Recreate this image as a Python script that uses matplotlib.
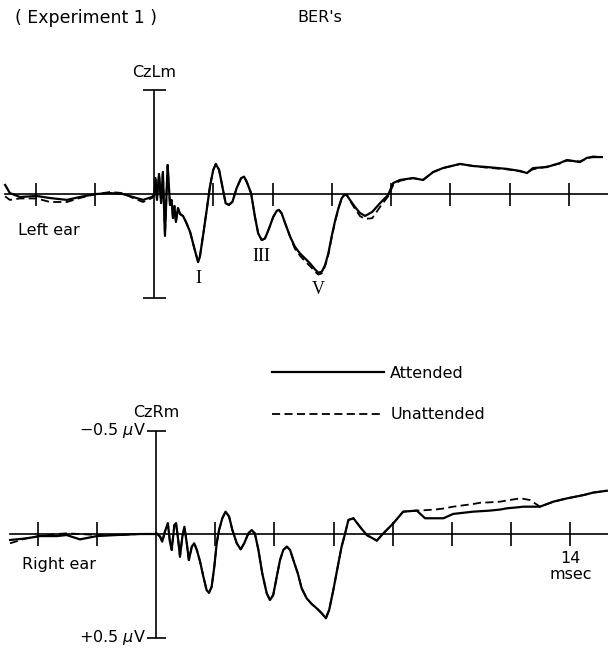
import numpy as np
import matplotlib.pyplot as plt
from matplotlib.lines import Line2D

# time in msec, amplitude in microvolts (vertex negative plotted upward)
left_t = [-5.04, -4.88, -4.54, -3.98, -3.52, -2.95, -2.52, -2.00, -1.50, -1.06,
          -0.72, -0.38, -0.08, 0.00, 0.04, 0.09, 0.16, 0.23, 0.29, 0.36,
          0.45, 0.53, 0.58, 0.63, 0.68, 0.73, 0.80, 0.87, 0.97, 1.07,
          1.21, 1.34, 1.48, 1.54, 1.66, 1.77, 1.88, 1.99, 2.08, 2.19,
          2.30, 2.41, 2.52, 2.64, 2.78, 2.93, 3.03, 3.12, 3.27, 3.40,
          3.51, 3.63, 3.74, 3.88, 4.02, 4.14, 4.21, 4.30, 4.42, 4.59,
          4.75, 4.92, 5.09, 5.26, 5.43, 5.54, 5.66, 5.77, 5.88, 5.99,
          6.10, 6.22, 6.33, 6.42, 6.50, 6.61, 6.78, 6.95, 7.12, 7.36,
          7.63, 7.90, 8.07, 8.30, 8.74, 9.08, 9.42, 9.75, 10.33, 10.77,
          11.24, 11.92, 12.36, 12.59, 12.79, 13.26, 13.70, 13.94, 14.38, 14.61,
          14.81, 15.12]
left_att = [-0.045, -0.006, 0.013, 0.008, 0.018, 0.027, 0.013, -0.001, -0.006, -0.001,
            0.013, 0.027, 0.013, 0.003, -0.078, 0.027, -0.098, 0.042, -0.107, 0.200,
            -0.141, 0.051, 0.027, 0.114, 0.056, 0.133, 0.066, 0.095, 0.104, 0.133,
            0.181, 0.253, 0.326, 0.300, 0.186, 0.076, -0.037, -0.117, -0.146, -0.117,
            -0.037, 0.043, 0.051, 0.036, -0.029, -0.077, -0.085, -0.061, -0.005, 0.108,
            0.188, 0.220, 0.212, 0.163, 0.108, 0.079, 0.075, 0.091, 0.139, 0.204,
            0.252, 0.284, 0.308, 0.332, 0.361, 0.377, 0.372, 0.340, 0.284, 0.204,
            0.132, 0.067, 0.019, 0.003, 0.003, 0.027, 0.061, 0.090, 0.104, 0.085,
            0.042, 0.003, -0.054, -0.069, -0.078, -0.069, -0.107, -0.126, -0.146, -0.136,
            -0.131, -0.122, -0.112, -0.102, -0.126, -0.131, -0.150, -0.165, -0.155, -0.175,
            -0.179, -0.179]
left_unatt = [0.010, 0.027, 0.020, 0.020, 0.037, 0.037, 0.018, 0.000, -0.011, -0.006,
              0.018, 0.037, 0.018, 0.003, -0.078, 0.027, -0.098, 0.042, -0.107, 0.200,
              -0.141, 0.051, 0.027, 0.114, 0.056, 0.133, 0.066, 0.095, 0.104, 0.133,
              0.181, 0.253, 0.326, 0.300, 0.186, 0.076, -0.037, -0.117, -0.146, -0.117,
              -0.037, 0.043, 0.051, 0.036, -0.029, -0.077, -0.085, -0.061, -0.005, 0.108,
              0.188, 0.220, 0.212, 0.163, 0.108, 0.079, 0.075, 0.091, 0.139, 0.204,
              0.262, 0.295, 0.322, 0.345, 0.372, 0.386, 0.380, 0.345, 0.290, 0.210,
              0.135, 0.070, 0.020, 0.003, 0.003, 0.030, 0.070, 0.105, 0.118, 0.115,
              0.060, 0.010, -0.045, -0.065, -0.078, -0.069, -0.107, -0.126, -0.146, -0.136,
              -0.128, -0.120, -0.110, -0.105, -0.120, -0.133, -0.148, -0.162, -0.158, -0.172,
              -0.182, -0.180]

right_t = [-4.93, -4.37, -3.92, -3.35, -3.02, -2.57, -2.00, -1.33, -0.54, -0.03,
           0.02, 0.14, 0.21, 0.30, 0.40, 0.47, 0.53, 0.62, 0.68, 0.75,
           0.81, 0.89, 0.96, 1.04, 1.11, 1.21, 1.29, 1.38, 1.49, 1.60,
           1.71, 1.79, 1.88, 1.97, 2.05, 2.13, 2.24, 2.35, 2.47, 2.58,
           2.73, 2.86, 2.98, 3.12, 3.23, 3.34, 3.46, 3.59, 3.74, 3.85,
           3.96, 4.08, 4.19, 4.30, 4.42, 4.53, 4.64, 4.79, 4.92, 5.09,
           5.26, 5.43, 5.60, 5.74, 5.85, 5.99, 6.14, 6.27, 6.39, 6.50,
           6.67, 6.89, 7.12, 7.46, 7.68, 8.02, 8.35, 8.81, 9.09, 9.48,
           9.71, 10.04, 10.72, 10.95, 11.28, 11.62, 11.85, 12.30, 12.41, 12.64,
           12.97, 13.42, 13.88, 14.44, 14.77, 15.23]
right_att = [0.029, 0.021, 0.010, 0.010, 0.005, 0.026, 0.010, 0.005, 0.000, 0.000,
             -0.003, 0.013, 0.037, -0.011, -0.052, 0.037, 0.077, -0.043, -0.052, 0.029,
             0.110, 0.013, -0.035, 0.045, 0.126, 0.061, 0.045, 0.077, 0.134, 0.206,
             0.271, 0.284, 0.255, 0.158, 0.045, -0.019, -0.076, -0.108, -0.084, -0.019,
             0.045, 0.074, 0.045, -0.003, -0.019, -0.003, 0.077, 0.190, 0.286, 0.319,
             0.295, 0.206, 0.126, 0.077, 0.061, 0.077, 0.126, 0.190, 0.262, 0.311,
             0.338, 0.359, 0.383, 0.407, 0.367, 0.271, 0.158, 0.061, -0.003, -0.068,
             -0.076, -0.035, 0.005, 0.032, -0.003, -0.052, -0.108, -0.113, -0.076, -0.076,
             -0.076, -0.097, -0.108, -0.110, -0.113, -0.118, -0.124, -0.130, -0.132, -0.132,
             -0.132, -0.156, -0.172, -0.188, -0.200, -0.209]
right_unatt = [0.045, 0.020, 0.010, 0.000, -0.003, 0.000, 0.005, 0.005, 0.000, 0.000,
               -0.003, 0.013, 0.037, -0.011, -0.052, 0.037, 0.077, -0.043, -0.052, 0.029,
               0.110, 0.013, -0.035, 0.045, 0.126, 0.061, 0.045, 0.077, 0.134, 0.206,
               0.271, 0.284, 0.255, 0.158, 0.045, -0.019, -0.076, -0.108, -0.084, -0.019,
               0.045, 0.074, 0.045, -0.003, -0.019, -0.003, 0.077, 0.190, 0.286, 0.319,
               0.295, 0.206, 0.126, 0.077, 0.061, 0.077, 0.126, 0.190, 0.262, 0.311,
               0.338, 0.359, 0.383, 0.407, 0.367, 0.271, 0.158, 0.061, -0.003, -0.068,
               -0.076, -0.035, 0.005, 0.032, -0.003, -0.052, -0.108, -0.113, -0.115, -0.119,
               -0.123, -0.132, -0.145, -0.151, -0.153, -0.156, -0.162, -0.172, -0.170, -0.164,
               -0.132, -0.156, -0.172, -0.188, -0.200, -0.209]

tick_ms = [-4, -2, 2, 4, 6, 8, 10, 12, 14]
wave_names = ['I', 'III', 'V']
wave_windows = [(1.0, 2.0), (3.2, 4.0), (5.0, 6.0)]

W, H = 608, 648
FS = 11.5


def px(x, y):
    # pixel position -> figure fraction
    return x / W, 1 - y / H


def setup_panel(ax, x0, xlo):
    # x0: pixel of time zero, xlo: leftmost baseline pixel
    ax.set_xlim(-x0 / 29.6, (W - x0) / 29.6)
    ax.axis('off')
    ax.plot([(xlo - x0) / 29.6, (W - x0) / 29.6], [0, 0], color='k', lw=1.2)
    ax.vlines(tick_ms, -0.056, 0.056, color='k', lw=1.2)
    ax.vlines(0, -0.5, 0.5, color='k', lw=1.2)


fig = plt.figure(figsize=(W / 100, H / 100), dpi=100)

# top panel (left ear), rows 40..350, zero line at 194.3 px
ax1 = fig.add_axes([0, 1 - 350 / H, 1, 310 / H])
ax1.set_ylim((350 - 194.3) / 208, (40 - 194.3) / 208)
setup_panel(ax1, 154.3, 5)
ax1.hlines([-0.5, 0.5], -0.39, 0.39, color='k', lw=1.2)
ax1.plot(left_t, left_unatt, color='k', lw=1.3, dashes=(4.5, 2.4))
ax1.plot(left_t, left_att, color='k', lw=1.6)

t = np.array(left_t)
v = np.array(left_att)
for name, (a, b) in zip(wave_names, wave_windows):
    m = (t >= a) & (t <= b)
    i = np.argmax(v[m])
    ax1.annotate(name, (t[m][i], v[m][i]), xytext=(0, -6), textcoords='offset points',
                 ha='center', va='top', fontsize=13, family='Liberation Serif')

ax1.annotate('CzLm', (0, -0.5), xytext=(0, 9.5), textcoords='offset points',
             ha='center', va='baseline', fontsize=FS)

# bottom panel (right ear), rows 360..648, zero line at 534 px
ax2 = fig.add_axes([0, 0, 1, 288 / H])
ax2.set_ylim((648 - 534) / 207, (360 - 534) / 207)
setup_panel(ax2, 156, 10)
ax2.hlines([-0.5, 0.5], -0.3, 0.35, color='k', lw=1.2)
ax2.plot(right_t, right_unatt, color='k', lw=1.3, dashes=(4.5, 2.4))
ax2.plot(right_t, right_att, color='k', lw=1.6)

ax2.annotate('CzRm', (0, -0.5), xytext=(0, 10), textcoords='offset points',
             ha='center', va='baseline', fontsize=FS)
ax2.text(-0.35, -0.5, '\u22120.5 $\\mu$V', ha='right', va='center', fontsize=FS)
ax2.text(-0.35, 0.5, '+0.5 $\\mu$V', ha='right', va='center', fontsize=FS)
ax2.text(14, 0.116, '14', ha='center', va='center', fontsize=FS)
ax2.text(14, 0.198, 'msec', ha='center', va='center', fontsize=FS)

fig.text(*px(15, 18), '( Experiment 1 )', ha='left', va='center', fontsize=12.5)
fig.text(*px(297, 18), "BER's", ha='left', va='center', fontsize=FS)
fig.text(*px(18, 231), 'Left ear', ha='left', va='center', fontsize=FS)
fig.text(*px(22, 565), 'Right ear', ha='left', va='center', fontsize=FS)

handles = [Line2D([], [], color='k', lw=1.6),
           Line2D([], [], color='k', lw=1.3, dashes=(4.5, 2.4))]
fig.legend(handles, ['Attended', 'Unattended'], loc='center left',
           bbox_to_anchor=px(272, 394), frameon=False, fontsize=FS,
           handlelength=7, handletextpad=0.4, labelspacing=1.65,
           borderpad=0, borderaxespad=0)

fig.savefig('out.png', dpi=100, facecolor='white')
